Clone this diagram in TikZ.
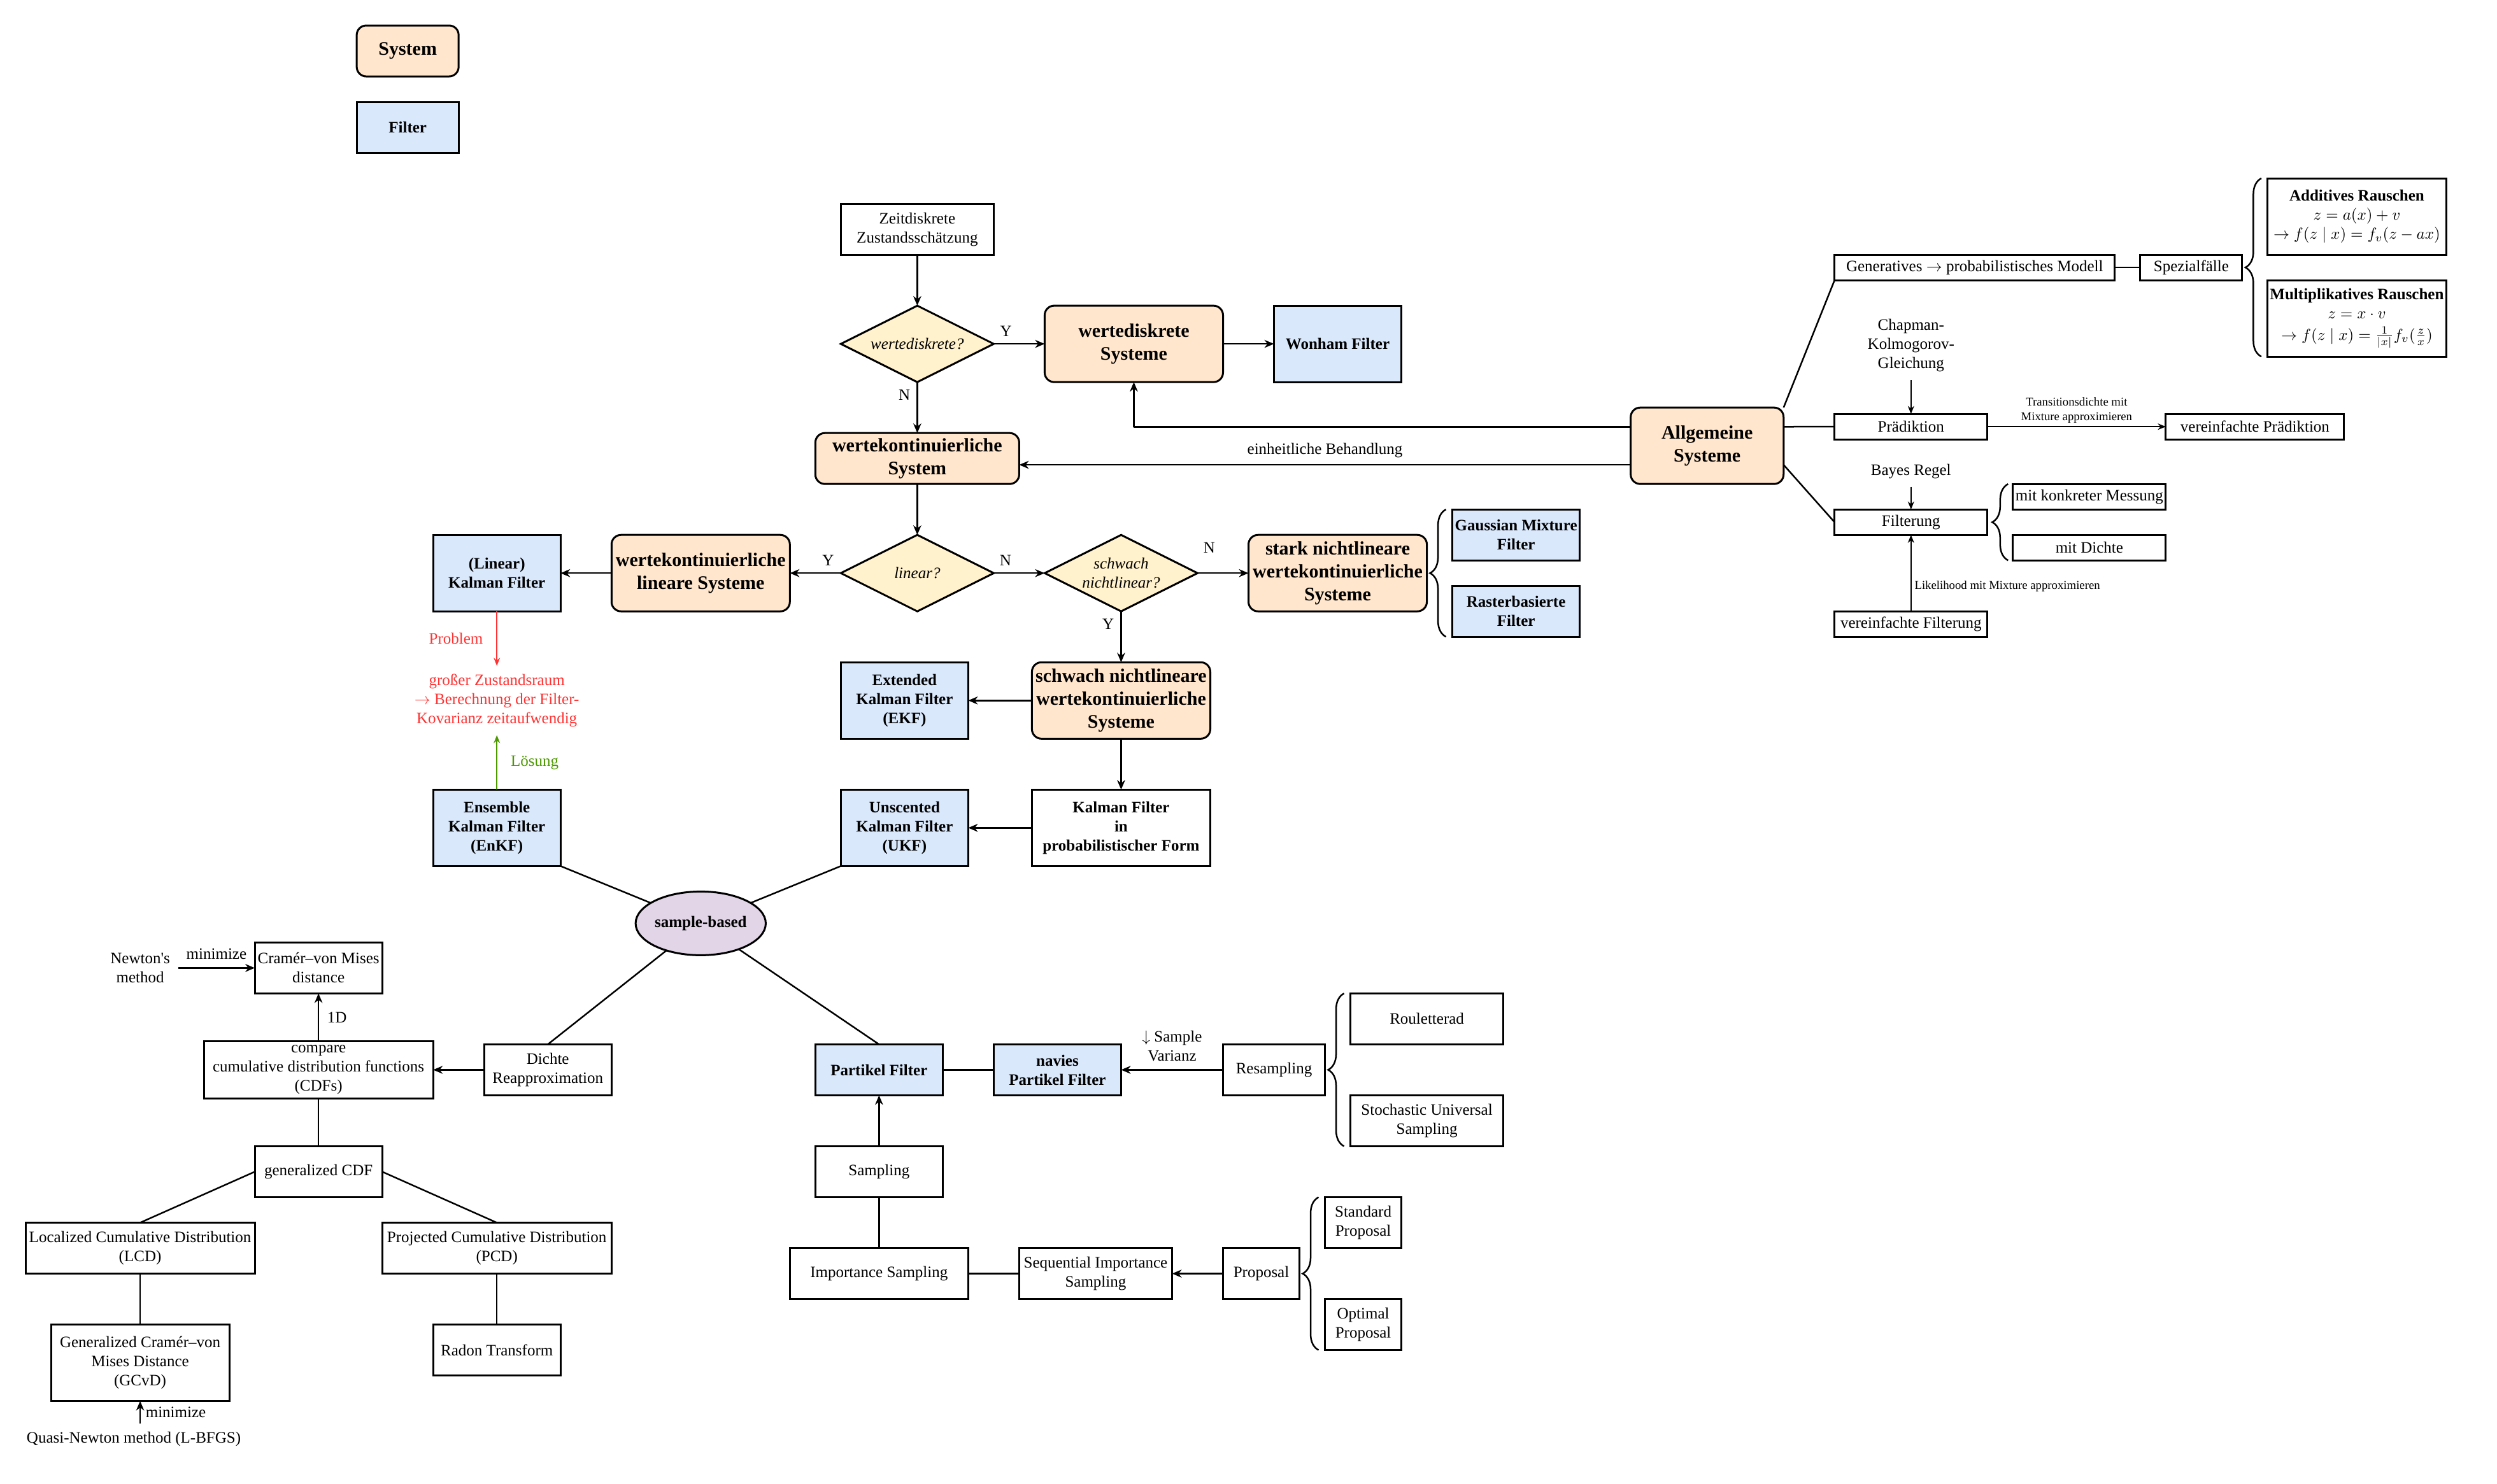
\documentclass[tikz,border=0pt]{standalone}
\usepackage{fontspec}
\setmainfont{Liberation Serif}
\usepackage{amsmath,amssymb}
\usetikzlibrary{arrows.meta,shapes.geometric,decorations.pathreplacing}
\definecolor{sysfill}{HTML}{FFE6CC}
\definecolor{filterfill}{HTML}{DAE8FC}
\definecolor{decfill}{HTML}{FFF2CC}
\definecolor{samplefill}{HTML}{E1D5E7}
\definecolor{problemred}{HTML}{FF3333}
\definecolor{solutiongreen}{HTML}{4D9900}

\begin{document}
\begin{tikzpicture}[x=1pt,y=-1pt,font=\fontsize{10}{12}\selectfont]
\tikzset{
  sysnode/.style={rectangle,rounded corners=6pt,draw=black,fill=sysfill,line width=1.2pt,inner sep=2pt,outer sep=0pt,align=center,font=\fontsize{12}{14.4}\selectfont\bfseries},
  filternode/.style={rectangle,draw=black,fill=filterfill,line width=1.2pt,inner sep=1.5pt,outer sep=0pt,align=center,font=\fontsize{10}{12}\selectfont\bfseries},
  plainnode/.style={rectangle,draw=black,fill=white,line width=1.2pt,inner sep=1.5pt,outer sep=0pt,align=center},
  decnode/.style={diamond,aspect=2,draw=black,fill=decfill,line width=1.2pt,inner sep=0pt,outer sep=0pt,align=center,minimum width=96pt,minimum height=48pt,font=\fontsize{10}{12}\selectfont\itshape},
  samplenode/.style={ellipse,draw=black,fill=samplefill,line width=1.2pt,inner sep=0pt,outer sep=0pt,minimum width=80pt,minimum height=40pt,font=\fontsize{10}{12}\selectfont\bfseries},
  textnode/.style={inner sep=5pt,align=center},
  smalltext/.style={inner sep=2pt,align=center,font=\fontsize{7.5}{9}\selectfont},
  flowedge/.style={draw=black,line width=1pt,line join=round,-{Stealth[length=6pt,width=5pt]}},
  thinedge/.style={draw=black,line width=0.6pt,-{Stealth[length=5pt,width=4pt]}},
  plainedge/.style={draw=black,line width=1pt},
  bracedeco/.style={draw=black,line width=1pt,decorate,decoration={brace,amplitude=10pt}},
  yn/.style={inner sep=4pt}
}
% legend
\useasboundingbox (0,0) rectangle (1568,932);
\node[sysnode,minimum width=64pt,minimum height=32pt] (n_legsys) at (256,32) {System};
\node[filternode,minimum width=64pt,minimum height=32pt] (n_legfil) at (256,80) {Filter};

% decision chain
\node[plainnode,minimum width=96pt,minimum height=32pt] (n_zeit) at (576,144) {Zeitdiskrete\\Zustandsschätzung};
\node[decnode] (n_qdisk) at (576,216) {wertediskrete?};
\node[sysnode,minimum width=112pt,minimum height=48pt] (n_wdsys) at (712,216) {wertediskrete\\Systeme};
\node[filternode,minimum width=80pt,minimum height=48pt] (n_wonham) at (840,216) {Wonham Filter};
\node[sysnode,minimum width=128pt,minimum height=32pt] (n_wksys) at (576,288) {wertekontinuierliche\\System};
\node[sysnode,minimum width=96pt,minimum height=48pt] (n_allg) at (1072,280) {Allgemeine\\Systeme};
\node[decnode] (n_qlin) at (576,360) {linear?};
\node[decnode] (n_qweak) at (704,360) {schwach\\nichtlinear?};
\node[sysnode,minimum width=112pt,minimum height=48pt] (n_linsys) at (440,360) {wertekontinuierliche\\lineare Systeme};
\node[filternode,minimum width=80pt,minimum height=48pt] (n_kf) at (312,360) {(Linear)\\Kalman Filter};
\node[sysnode,minimum width=112pt,minimum height=48pt] (n_strong) at (840,360) {stark nichtlineare\\wertekontinuierliche\\Systeme};
\node[filternode,minimum width=80pt,minimum height=32pt] (n_gmf) at (952,336) {Gaussian Mixture\\Filter};
\node[filternode,minimum width=80pt,minimum height=32pt] (n_rbf) at (952,384) {Rasterbasierte\\Filter};
\node[sysnode,minimum width=112pt,minimum height=48pt] (n_weak) at (704,440) {schwach nichtlineare\\wertekontinuierliche\\Systeme};
\node[filternode,minimum width=80pt,minimum height=48pt] (n_ekf) at (568,440) {Extended\\Kalman Filter\\(EKF)};
\node[plainnode,minimum width=112pt,minimum height=48pt,font=\fontsize{10}{12}\selectfont\bfseries] (n_kfprob) at (704,520) {Kalman Filter\\in\\probabilistischer Form};
\node[filternode,minimum width=80pt,minimum height=48pt] (n_ukf) at (568,520) {Unscented\\Kalman Filter\\(UKF)};
\node[textnode,text=problemred] (n_problem) at (312,440) {großer Zustandsraum\\$\rightarrow$ Berechnung der Filter-\\Kovarianz zeitaufwendig};
\node[filternode,minimum width=80pt,minimum height=48pt] (n_enkf) at (312,520) {Ensemble\\Kalman Filter\\(EnKF)};
\node[samplenode] (n_sample) at (440,580) {sample-based};

% density branch
\node[plainnode,minimum width=80pt,minimum height=32pt] (n_dichte) at (344,672) {Dichte\\Reapproximation};
\node[plainnode,minimum width=144pt,minimum height=36pt] (n_compare) at (200,672) {compare\\cumulative distribution functions\\(CDFs)};
\node[plainnode,minimum width=80pt,minimum height=32pt] (n_cvm) at (200,608) {Cramér--von Mises\\distance};
\node[textnode] (n_newton) at (88,608) {Newton\textquotesingle s\\method};
\node[plainnode,minimum width=80pt,minimum height=32pt] (n_gcdf) at (200,736) {generalized CDF};
\node[plainnode,minimum width=144pt,minimum height=32pt] (n_lcd) at (88,784) {Localized Cumulative Distribution\\(LCD)};
\node[plainnode,minimum width=144pt,minimum height=32pt] (n_pcd) at (312,784) {Projected Cumulative Distribution\\(PCD)};
\node[plainnode,minimum width=112pt,minimum height=48pt] (n_gcvd) at (88,856) {Generalized Cramér--von\\Mises Distance\\(GCvD)};
\node[plainnode,minimum width=80pt,minimum height=32pt] (n_radon) at (312,848) {Radon Transform};
\node[textnode] (n_quasi) at (84,904) {Quasi-Newton method (L-BFGS)};

% particle branch
\node[filternode,minimum width=80pt,minimum height=32pt] (n_pf) at (552,672) {Partikel Filter};
\node[filternode,minimum width=80pt,minimum height=32pt] (n_npf) at (664,672) {navies\\Partikel Filter};
\node[plainnode,minimum width=64pt,minimum height=32pt] (n_resamp) at (800,672) {Resampling};
\node[plainnode,minimum width=96pt,minimum height=32pt] (n_roulette) at (896,640) {Rouletterad};
\node[plainnode,minimum width=96pt,minimum height=32pt] (n_sus) at (896,704) {Stochastic Universal\\Sampling};
\node[plainnode,minimum width=80pt,minimum height=32pt] (n_sampling) at (552,736) {Sampling};
\node[plainnode,minimum width=112pt,minimum height=32pt] (n_impsamp) at (552,800) {Importance Sampling};
\node[plainnode,minimum width=96pt,minimum height=32pt] (n_sis) at (688,800) {Sequential Importance\\Sampling};
\node[plainnode,minimum width=48pt,minimum height=32pt] (n_proposal) at (792,800) {Proposal};
\node[plainnode,minimum width=48pt,minimum height=32pt] (n_stdprop) at (856,768) {Standard\\Proposal};
\node[plainnode,minimum width=48pt,minimum height=32pt] (n_optprop) at (856,832) {Optimal\\Proposal};

% general systems
\node[plainnode,minimum width=176pt,minimum height=16pt] (n_gen) at (1240,168) {Generatives $\rightarrow$ probabilistisches Modell};
\node[plainnode,minimum width=64pt,minimum height=16pt] (n_spez) at (1376,168) {Spezialfälle};
\node[plainnode,minimum width=112pt,minimum height=48pt,inner sep=1pt] (n_addn) at (1480,136) {\textbf{Additives Rauschen}\\$z = a(x) + v$\\$\rightarrow f(z \mid x) = f_v(z - ax)$};
\node[plainnode,minimum width=112pt,minimum height=48pt,inner sep=1pt] (n_multn) at (1480,200) {\textbf{Multiplikatives Rauschen}\\$z = x \cdot v$\\[1.5pt]$\rightarrow f(z \mid x) = \frac{1}{|x|} f_v(\frac{z}{x})$};
\node[textnode] (n_chapman) at (1200,217) {Chapman-\\Kolmogorov-\\Gleichung};
\node[plainnode,minimum width=96pt,minimum height=16pt] (n_praed) at (1200,268) {Prädiktion};
\node[plainnode,minimum width=112pt,minimum height=16pt] (n_vpraed) at (1416,268) {vereinfachte Prädiktion};
\node[textnode] (n_bayes) at (1200,296) {Bayes Regel};
\node[plainnode,minimum width=96pt,minimum height=16pt] (n_filt) at (1200,328) {Filterung};
\node[plainnode,minimum width=96pt,minimum height=16pt] (n_messung) at (1312,312) {mit konkreter Messung};
\node[plainnode,minimum width=96pt,minimum height=16pt] (n_mdichte) at (1312,344) {mit Dichte};
\node[plainnode,minimum width=96pt,minimum height=16pt] (n_vfilt) at (1200,392) {vereinfachte Filterung};

% connectors
\draw[flowedge] (n_zeit) -- (n_qdisk);
\draw[flowedge] (n_qdisk) -- (n_wdsys) node[yn,pos=0.24,above] {Y};
\draw[flowedge] (n_qdisk) -- (n_wksys) node[yn,pos=0.25,left] {N};
\draw[flowedge] (n_wdsys) -- (n_wonham);
\draw[flowedge] (n_allg.166) -| (n_wdsys.south);
\draw[flowedge] (n_allg.194) -- (n_allg.194 -| n_wksys.east) node[midway,above,inner sep=4pt] {einheitliche Behandlung};
\draw[flowedge] (n_wksys) -- (n_qlin);
\draw[flowedge] (n_qlin) -- (n_linsys) node[yn,pos=0.25,above] {Y};
\draw[flowedge] (n_linsys) -- (n_kf);
\draw[flowedge] (n_qlin) -- (n_qweak) node[yn,pos=0.23,above] {N};
\draw[flowedge] (n_qweak) -- (n_strong) node[yn,pos=0.23,above=8pt] {N};
\draw[flowedge] (n_qweak) -- (n_weak) node[yn,pos=0.25,left] {Y};
\draw[flowedge] (n_weak) -- (n_ekf);
\draw[flowedge] (n_weak) -- (n_kfprob);
\draw[flowedge] (n_kfprob) -- (n_ukf);
\draw[thinedge,draw=problemred,line width=0.8pt] (n_kf) -- (n_problem) node[midway,left=5pt,text=problemred] {Problem};
\draw[thinedge,draw=solutiongreen,line width=0.8pt] (n_enkf) -- (n_problem) node[midway,right=5pt,text=solutiongreen] {Lösung};
\draw[plainedge] (n_enkf.south east) -- (n_sample);
\draw[plainedge] (n_ukf.south west) -- (n_sample);
\draw[plainedge] (n_sample) -- (n_dichte.north);
\draw[plainedge] (n_sample) -- (n_pf.north);
\draw[flowedge] (n_dichte) -- (n_compare);
\draw[flowedge] (n_compare) -- (n_cvm) node[midway,right,inner sep=5pt] {1D};
\draw[flowedge] (n_newton.east) -- (n_cvm.west) node[midway,above,inner sep=5pt] {minimize};
\draw[plainedge] (n_compare) -- (n_gcdf);
\draw[plainedge] (n_gcdf.west) -- (n_lcd.north);
\draw[plainedge] (n_gcdf.east) -- (n_pcd.north);
\draw[plainedge] (n_lcd) -- (n_gcvd);
\draw[plainedge] (n_pcd) -- (n_radon);
\draw[flowedge] (n_quasi.north -| n_gcvd.south) -- (n_gcvd.south) node[midway,right,inner sep=3pt] {minimize};
\draw[plainedge] (n_pf) -- (n_npf);
\draw[flowedge] (n_resamp) -- (n_npf) node[midway,above,inner sep=5pt,align=center] {$\downarrow$ Sample\\Varianz};
\draw[flowedge] (n_sampling) -- (n_pf);
\draw[plainedge] (n_impsamp) -- (n_sampling);
\draw[plainedge] (n_impsamp) -- (n_sis);
\draw[flowedge] (n_proposal) -- (n_sis);
\draw[plainedge] (n_allg.north east) -- (n_gen.south west);
\draw[plainedge] (n_gen) -- (n_spez);
\draw[plainedge] (n_allg.14) -- (n_praed.west);
\draw[plainedge] (n_allg.-14) -- (n_filt.west);
\draw[thinedge] (n_chapman) -- (n_praed);
\draw[thinedge] (n_bayes) -- (n_filt);
\draw[thinedge,line width=0.8pt] (n_praed) -- (n_vpraed) node[midway,above,smalltext] {Transitionsdichte mit\\Mixture approximieren};
\draw[thinedge] (n_vfilt) -- (n_filt) node[pos=0.33,right,smalltext] {Likelihood mit Mixture approximieren};

% braces
\draw[bracedeco] ([xshift=-4pt]n_multn.south west) -- ([xshift=-4pt]n_addn.north west);
\draw[bracedeco] ([xshift=-4pt]n_rbf.south west) -- ([xshift=-4pt]n_gmf.north west);
\draw[bracedeco] ([xshift=-3pt]n_mdichte.south west) -- ([xshift=-3pt]n_messung.north west);
\draw[bracedeco] ([xshift=-4pt]n_sus.south west) -- ([xshift=-4pt]n_roulette.north west);
\draw[bracedeco] ([xshift=-4pt]n_optprop.south west) -- ([xshift=-4pt]n_stdprop.north west);
\end{tikzpicture}
\end{document}
